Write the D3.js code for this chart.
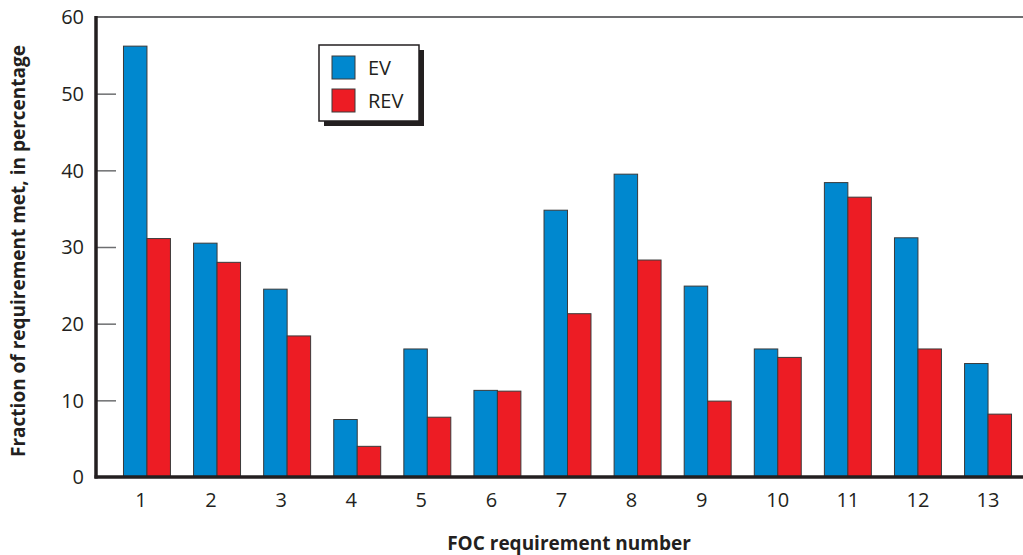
<!doctype html>
<html>
<head>
<meta charset="utf-8">
<script src="https://cdn.jsdelivr.net/npm/d3@7"></script>
<style>
  body { margin: 0; background: #fff; }
  text { font-family: "Open Sans", sans-serif; fill: #231f20; }
</style>
</head>
<body>
<svg id="chart" width="1023" height="555"></svg>
<script>
// data
var categories = ["1","2","3","4","5","6","7","8","9","10","11","12","13"];
var seriesNames = ["EV", "REV"];
var evValues  = [56.2, 30.5, 24.5, 7.5, 16.7, 11.3, 34.8, 39.5, 24.9, 16.7, 38.4, 31.2, 14.8];
var revValues = [31.1, 28.0, 18.4, 4.0, 7.8, 11.2, 21.3, 28.3, 9.9, 15.6, 36.5, 16.7, 8.2];
var yTicks = [0, 10, 20, 30, 40, 50, 60];
var colors = { EV: "#0088cf", REV: "#ed1c24" };

var svg = d3.select("#chart");
var plotLeft = 96, plotRight = 1023, plotTop = 17, plotBottom = 477;

var rows = categories.map(function(c, i) {
  return { cat: c, EV: evValues[i], REV: revValues[i] };
});

var x = d3.scaleBand().domain(categories).range([100, 1035])
  .paddingInner(0.33).paddingOuter(0.335);
var xSub = d3.scaleBand().domain(seriesNames).range([0, x.bandwidth()]);
var y = d3.scaleLinear().domain([0, 60]).range([plotBottom, plotTop]);

// top frame line
svg.append("line")
  .attr("x1", plotLeft).attr("x2", plotRight)
  .attr("y1", plotTop).attr("y2", plotTop)
  .attr("stroke", "#6d6e70").attr("stroke-width", 2);

// bars
var groups = svg.selectAll(".grp")
  .data(rows)
  .enter().append("g")
  .attr("class", "grp")
  .attr("transform", function(d) { return "translate(" + x(d.cat) + ",0)"; });

groups.selectAll("rect")
  .data(function(d) { return seriesNames.map(function(s) { return { key: s, value: d[s] }; }); })
  .enter().append("rect")
  .attr("x", function(d) { return xSub(d.key); })
  .attr("y", function(d) { return y(d.value); })
  .attr("width", xSub.bandwidth())
  .attr("height", function(d) { return plotBottom - y(d.value); })
  .attr("fill", function(d) { return colors[d.key]; })
  .attr("stroke", "#3a3a3a")
  .attr("stroke-width", 1);

// y axis
var yAxis = svg.append("g")
  .attr("transform", "translate(" + plotLeft + ",0)")
  .call(d3.axisRight(y).tickValues(yTicks).tickSize(20).tickFormat(""));
yAxis.select(".domain").remove();
yAxis.selectAll(".tick line").attr("stroke", "#6d6e70").attr("stroke-width", 1.5);
yAxis.selectAll(".tick").filter(function(d) { return d === 0 || d === 60; }).select("line").remove();

svg.append("g").selectAll("text")
  .data(yTicks)
  .enter().append("text")
  .attr("x", plotLeft - 12)
  .attr("y", function(d) { return y(d); })
  .attr("dy", "0.36em")
  .attr("text-anchor", "end")
  .attr("font-size", "20px")
  .text(function(d) { return d; });

svg.append("line")
  .attr("x1", plotLeft).attr("x2", plotLeft)
  .attr("y1", plotTop - 1).attr("y2", plotBottom + 1.5)
  .attr("stroke", "#231f20").attr("stroke-width", 3.5);

// x axis
var xAxis = svg.append("g")
  .attr("transform", "translate(0," + plotBottom + ")")
  .call(d3.axisBottom(x).tickSize(0).tickPadding(16));
xAxis.select(".domain").remove();
xAxis.selectAll("text")
  .attr("font-size", "20px")
  .attr("font-family", "Open Sans, sans-serif")
  .attr("fill", "#231f20")
  .attr("dx", function(d) { return d.length === 1 ? -6 : 0; });

svg.append("line")
  .attr("x1", plotLeft - 1.5).attr("x2", plotRight)
  .attr("y1", plotBottom).attr("y2", plotBottom)
  .attr("stroke", "#231f20").attr("stroke-width", 3.5);

// axis titles
svg.append("text")
  .attr("x", 569).attr("y", 550)
  .attr("text-anchor", "middle")
  .attr("font-size", "19px")
  .attr("font-weight", "bold")
  .text("FOC requirement number");

svg.append("text")
  .attr("transform", "translate(25,251) rotate(-90)")
  .attr("text-anchor", "middle")
  .attr("font-size", "19px")
  .attr("font-weight", "bold")
  .text("Fraction of requirement met, in percentage");

// legend
var lg = svg.append("g").attr("transform", "translate(319,45)");
lg.append("rect")
  .attr("x", 5).attr("y", 5).attr("width", 100).attr("height", 76)
  .attr("fill", "#231f20");
lg.append("rect")
  .attr("x", 0).attr("y", 0).attr("width", 100).attr("height", 76)
  .attr("fill", "#fff").attr("stroke", "#231f20").attr("stroke-width", 1.5);

seriesNames.forEach(function(s, i) {
  lg.append("rect")
    .attr("x", 13).attr("y", 11 + i * 33)
    .attr("width", 23).attr("height", 23)
    .attr("fill", colors[s]).attr("stroke", "#3a3a3a").attr("stroke-width", 1);
  lg.append("text")
    .attr("x", 49).attr("y", 30 + i * 33)
    .attr("font-size", "20px")
    .text(s);
});
</script>
</body>
</html>
